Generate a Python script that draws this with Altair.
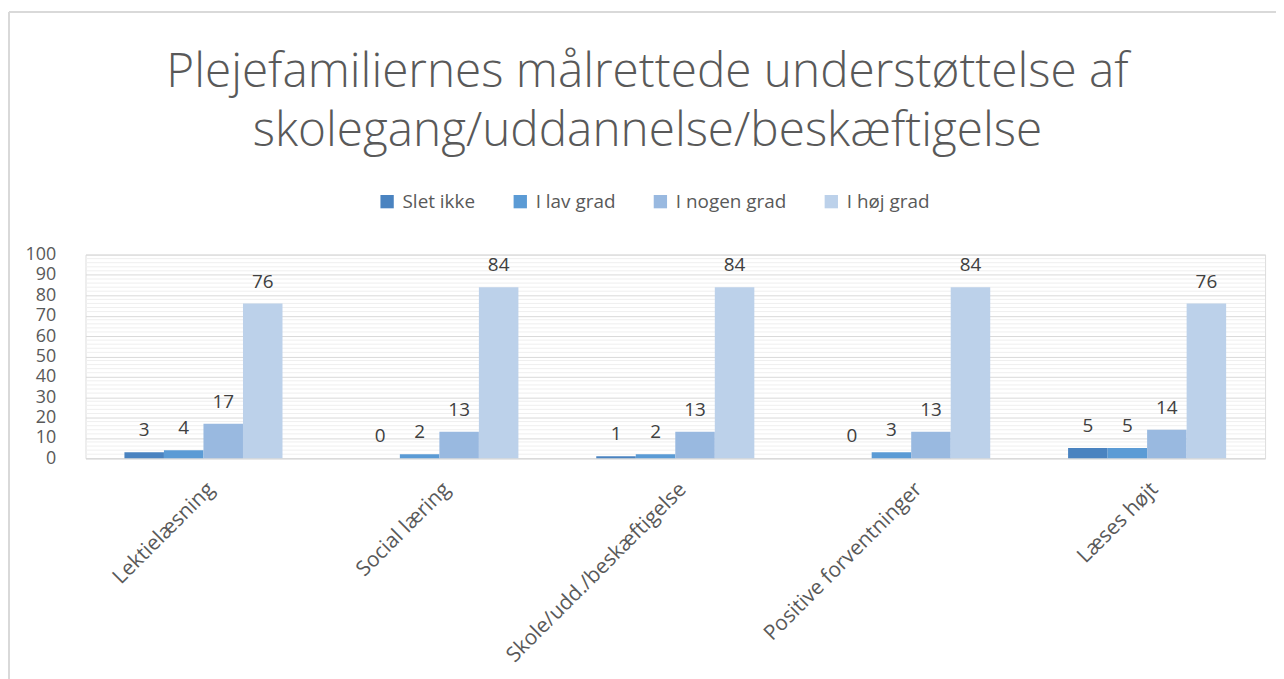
import altair as alt
import pandas as pd

categories = ["Lektielæsning", "Social læring", "Skole/udd./beskæftigelse", "Positive forventninger", "Læses højt"]
series = ["Slet ikke", "I lav grad", "I nogen grad", "I høj grad"]
slet_ikke = [3, 0, 1, 0, 5]
i_lav_grad = [4, 2, 2, 3, 5]
i_nogen_grad = [17, 13, 13, 13, 14]
i_hoej_grad = [76, 84, 84, 84, 76]
colors = ["#4a83c0", "#5b9bd5", "#99b9e0", "#bcd1ea"]
major_ticks = list(range(0, 101, 10))
minor_ticks = [v for v in range(2, 100, 2) if v % 10 != 0]

rows = []
for name, vals in zip(series, [slet_ikke, i_lav_grad, i_nogen_grad, i_hoej_grad]):
    for c, v in zip(categories, vals):
        rows.append({"Kategori": c, "Svar": name, "Værdi": v})
df = pd.DataFrame(rows)
minor_df = pd.DataFrame({"v": minor_ticks})
frame_df = pd.DataFrame({"frame": [0]})

FONT = "Open Sans"
GREY = "#595959"
FRAME = "#d9d9d9"

x_enc = alt.X("Kategori:N", sort=categories,
              scale=alt.Scale(paddingInner=0.33, paddingOuter=0.165),
              axis=alt.Axis(title=None, labelAngle=-45, labelFontSize=21, labelColor=GREY,
                            labelFont=FONT, ticks=False, domainColor="#d9d9d9",
                            labelPadding=20, labelLimit=400))
y_scale = alt.Scale(domain=[0, 100], nice=False)
y_axis = alt.Axis(title=None, values=major_ticks, grid=True, gridColor="#d9d9d9",
                  domain=False, ticks=False, labelFontSize=18, labelColor=GREY,
                  labelFont=FONT, labelPadding=30)

minor = alt.Chart(minor_df).mark_rule(color="#efefef", strokeWidth=1).encode(
    y=alt.Y("v:Q", scale=y_scale, axis=y_axis)
)

frame_top = alt.Chart(frame_df).mark_rule(color=FRAME, strokeWidth=2).encode(
    x=alt.value(-77), x2=alt.value(1230), y=alt.value(-244)
)
frame_left = alt.Chart(frame_df).mark_rule(color=FRAME, strokeWidth=2).encode(
    x=alt.value(-77), y=alt.value(-244), y2=alt.value(440)
)

base = alt.Chart(df).encode(
    x=x_enc,
    xOffset=alt.XOffset("Svar:N", sort=series, scale=alt.Scale(paddingInner=0, paddingOuter=0)),
)

bars = base.mark_bar().encode(
    y=alt.Y("Værdi:Q", scale=y_scale, axis=y_axis),
    color=alt.Color("Svar:N", sort=series,
                    scale=alt.Scale(domain=series, range=colors),
                    legend=alt.Legend(title=None, orient="none", direction="horizontal",
                                      legendX=294, legendY=-63, symbolType="square",
                                      symbolSize=180, labelFontSize=19, labelColor=GREY,
                                      labelFont=FONT, columnPadding=35, labelOffset=6,
                                      symbolStrokeWidth=0)),
)

labels = base.mark_text(baseline="bottom", dy=-12, fontSize=19, color="#404040", font=FONT).encode(
    y=alt.Y("Værdi:Q", scale=y_scale, axis=y_axis),
    text=alt.Text("Værdi:Q"),
)

chart = alt.layer(minor, bars, labels, frame_top, frame_left).properties(
    width=1187,
    height=205,
    autosize=alt.AutoSizeParams(type="none"),
    padding={"left": 78, "top": 246, "right": 11, "bottom": 220},
    title=alt.TitleParams(
        text=["Plejefamiliernes målrettede understøttelse af", "skolegang/uddannelse/beskæftigelse"],
        fontSize=48, font=FONT, fontWeight=300, color=GREY, anchor="middle",
        offset=-146, dx=-28, lineHeight=60,
    ),
).configure_view(stroke=None).configure(background="white")

chart.save("out.html", embed_options={"renderer": "svg", "actions": False})
